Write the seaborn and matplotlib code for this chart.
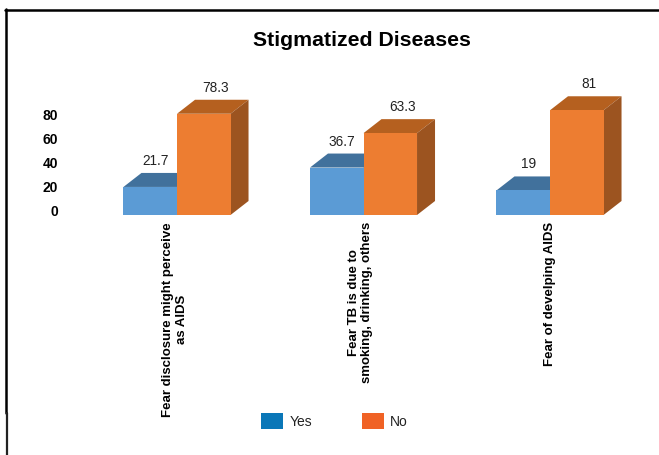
import matplotlib
matplotlib.use("Agg")
import matplotlib.pyplot as plt
from matplotlib.lines import Line2D
from matplotlib.patches import Polygon, Patch
import pandas as pd
import seaborn as sns

categories = ["Fear disclosure might perceive\nas AIDS",
              "Fear TB is due to\nsmoking, drinking, others",
              "Fear of develping AIDS"]
yes_values = [21.7, 36.7, 19]
no_values = [78.3, 63.3, 81]
tick_values = [0, 20, 40, 60, 80]
series_names = ["Yes", "No"]

W, H = 659, 455
sns.set_theme(style="white")
plt.rcParams["font.family"] = ["Liberation Sans", "DejaVu Sans"]

fig = plt.figure(figsize=(W / 100, H / 100), dpi=100, facecolor="white")

# Axes box in pixels: left, right, bottom and top of the plotting region
left, right, base, top = 60, 650, 215, 80
ax = fig.add_axes([left / W, 1 - base / H, (right - left) / W, (base - top) / H])

px_per_unit = 1.293
px_per_cat = 186.5
xlim = ((left - 177) / px_per_cat, (right - 177) / px_per_cat)
ylim = (0, (base - top) / px_per_unit)

df = pd.DataFrame({
    "category": categories * 2,
    "value": yes_values + no_values,
    "series": [series_names[0]] * 3 + [series_names[1]] * 3,
})
front = {"Yes": "#5B9BD5", "No": "#ED7D31"}
roof = {"Yes": "#41719C", "No": "#B5601F"}
wall = {"Yes": "#3B6A94", "No": "#9C5420"}

sns.barplot(data=df, x="category", y="value", hue="series", order=categories,
            hue_order=series_names, palette=front, width=0.574, gap=0,
            saturation=1, legend=False, ax=ax, zorder=3, linewidth=0, edgecolor="none")
ax.set_xlim(*xlim)
ax.set_ylim(*ylim)

# Extruded sides and roofs of every bar, with the value above each roof
dx = 18 / px_per_cat
dy = 14 / px_per_unit
label_shift = {"Yes": 32 / px_per_cat, "No": 39 / px_per_cat}
bars = [b for b in ax.patches if b.get_height() > 0]
for i, bar in enumerate(bars):
    name = series_names[0] if i < 3 else series_names[1]
    x0, x1, h = bar.get_x(), bar.get_x() + bar.get_width(), bar.get_height()
    order = 1 if name == "Yes" else 2
    ax.add_patch(Polygon([(x0, h), (x1, h), (x1 + dx, h + dy), (x0 + dx, h + dy)],
                         closed=True, fc=roof[name], ec="none", zorder=order, clip_on=False))
    ax.add_patch(Polygon([(x1, 0), (x1 + dx, dy), (x1 + dx, h + dy), (x1, h)],
                         closed=True, fc=wall[name], ec="none", zorder=order, clip_on=False))
    ax.text(x0 + label_shift[name], h + dy + 12 / px_per_unit, f"{h:g}",
            ha="center", va="center", fontsize=9.8, color="#222222")

# Value ticks sit on the receding floor, a little tighter than the bar scale
ax.set_yticks([(4 + v * 1.2) / px_per_unit for v in tick_values])
ax.set_yticklabels([str(v) for v in tick_values], fontsize=10, fontweight="bold", color="black")
ax.tick_params(axis="y", length=0, pad=1.5)

ax.set_xlabel("")
ax.set_ylabel("")
ax.tick_params(axis="x", length=0, pad=5)
ax.set_xticks([p - s / px_per_cat for p, s in zip(range(3), [2, 3, 0])])
ax.set_xticklabels(categories, rotation=90, fontsize=9.5, fontweight="bold",
                   color="black", linespacing=1.2, ha="center", va="top")
for s in ax.spines.values():
    s.set_visible(False)
ax.patch.set_alpha(0)

fig.text(361.5 / W, 1 - 40 / H, "Stigmatized Diseases", ha="center", va="center",
         fontsize=15.3, fontweight="bold", color="black")

handles = [Patch(fc="#0A77B8", ec="none", label="Yes"), Patch(fc="#F06225", ec="none", label="No")]
fig.legend(handles=handles, loc="center left", bbox_to_anchor=(261 / W, 1 - 421 / H),
           frameon=False, ncol=2, fontsize=10, handlelength=1.6, handleheight=1.45,
           columnspacing=3.6, handletextpad=0.43, borderpad=0, borderaxespad=0,
           labelcolor="#222222")

# Page frame along the top and left edges
fig.add_artist(Line2D([5 / W, 1], [1 - 9.5 / H, 1 - 9.5 / H], color="black", lw=1.8))
fig.add_artist(Line2D([6 / W, 6 / W], [1 - 413 / H, 1 - 9 / H], color="black", lw=1.8))
fig.add_artist(Line2D([7 / W, 7 / W], [0, 1 - 413 / H], color="#222222", lw=1.6))

fig.savefig("out.png", dpi=100)
